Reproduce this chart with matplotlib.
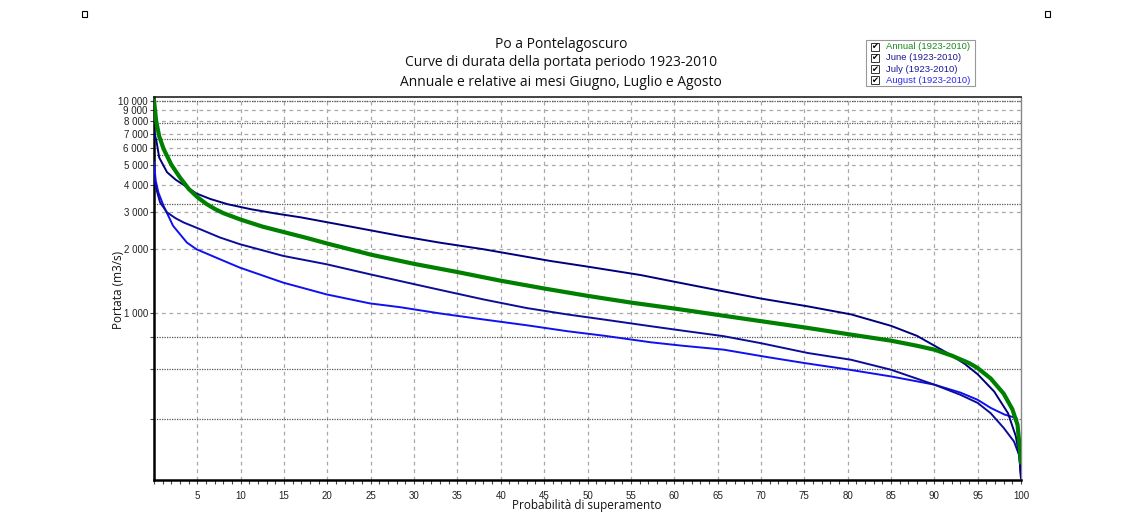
import matplotlib
matplotlib.use("Agg")
import matplotlib.pyplot as plt
from matplotlib.patches import Rectangle
from matplotlib.ticker import FixedLocator, FuncFormatter, MultipleLocator

# --- data (probability of exceedance %, discharge m3/s) ---
annual_p = [0, 0.25, 0.6, 1.1, 2, 3, 4, 5, 6, 7, 8, 10, 12.5, 15, 17.5, 20, 25, 30, 35,
            40, 45, 50, 55, 60, 65, 70, 75, 80, 85, 88, 90, 92, 94, 95, 96.5, 98, 99,
            99.6, 100]
annual_q = [10000, 8000, 6800, 5940, 5000, 4350, 3850, 3520, 3280, 3100, 2960, 2760, 2560,
            2410, 2270, 2130, 1890, 1710, 1565, 1425, 1310, 1210, 1125, 1055, 985, 920,
            860, 800, 745, 705, 676, 634, 585, 554, 495, 420, 355, 300, 200]

june_p = [0, 0.3, 0.6, 1.5, 2.5, 3.4, 4.9, 6.5, 8.5, 11.1, 14, 16.9, 22.6, 28.4, 33, 38,
          45.7, 50, 56.1, 60, 65.7, 70, 75.4, 80.4, 85, 88, 91.5, 93.5, 95, 96.9, 98.5,
          99.4, 99.8, 100]
june_q = [7200, 6400, 5400, 4610, 4250, 4020, 3660, 3450, 3260, 3093, 2950, 2830, 2563,
          2314, 2150, 2003, 1765, 1660, 1516, 1410, 1270, 1175, 1080, 990, 875, 785,
          652, 580, 518, 430, 340, 265, 215, 168]

july_p = [0, 0.3, 0.7, 1.5, 2.5, 3.4, 5.3, 7.6, 9.9, 14.9, 19.9, 24.9, 28.4, 33, 38, 43,
          47.7, 52, 57.3, 61, 65.7, 70, 75.4, 80.4, 85, 90, 93, 95, 96.5, 98, 99.2, 99.8,
          100]
july_q = [4300, 3800, 3325, 2984, 2800, 2678, 2490, 2275, 2116, 1864, 1703, 1528, 1420,
          1290, 1164, 1060, 989, 935, 871, 830, 782, 725, 652, 606, 544, 463, 415, 380,
          340, 290, 250, 215, 170]

august_p = [0, 0.2, 0.5, 1.1, 2.2, 3.8, 4.9, 7.6, 9.9, 14.9, 19.9, 24.9, 28.4, 33, 38,
            43, 47.7, 52, 57.3, 61, 65.7, 70.6, 75, 80.2, 85, 90, 93, 95, 96.5, 98.1,
            99.5, 99.8, 100]
august_q = [5130, 4200, 3706, 3205, 2580, 2152, 2003, 1798, 1642, 1396, 1229, 1115, 1070,
            1000, 937, 880, 825, 785, 732, 705, 676, 625, 585, 544, 506, 463, 425, 393,
            360, 335, 322, 250, 180]

# black dotted reference levels
ref_levels = [10000, 7850, 6590, 5545, 3260, 771, 546, 320]
y_ticks = [1000, 2000, 3000, 4000, 5000, 6000, 7000, 8000, 9000, 10000]
x_ticks = list(range(5, 101, 5))

legend_labels = ["Annual (1923-2010)", "June (1923-2010)", "July (1923-2010)", "August (1923-2010)"]
legend_colors = ["#1a8a1a", "#1a1a8c", "#1a1a9c", "#2a2aee"]

W, H = 1123, 513
fig = plt.figure(figsize=(W / 100, H / 100), dpi=100)
ax = fig.add_axes([154 / W, 1 - 480 / H, (1021 - 154) / W, (480 - 97) / H])

ax.set_yscale("log")
ax.set_xlim(0, 100)
ax.set_ylim(165, 10400)

# grid
for x in x_ticks[:-1]:
    ax.axvline(x, color="#a8a8a8", lw=0.9, ls=(0, (3, 3)), zorder=1)
for y in y_ticks:
    ax.axhline(y, color="#a8a8a8", lw=0.9, ls=(0, (3, 3)), zorder=1)
for y in ref_levels:
    ax.axhline(y, color="#555555", lw=0.9, ls=(0, (1, 1)), zorder=1)

ax.plot(august_p, august_q, color="#1010f0", lw=1.4, zorder=3)
ax.plot(july_p, july_q, color="#0c0c9a", lw=1.4, zorder=3)
ax.plot(june_p, june_q, color="#00007f", lw=1.4, zorder=3)
ax.plot(annual_p, annual_q, color="#008000", lw=3.0, zorder=4)

# ticks
ax.xaxis.set_major_locator(FixedLocator(x_ticks))
ax.xaxis.set_minor_locator(MultipleLocator(1))
ax.yaxis.set_major_locator(FixedLocator(y_ticks))
ax.yaxis.set_minor_locator(FixedLocator(ref_levels[5:]))
ax.yaxis.set_major_formatter(FuncFormatter(lambda v, _: f"{int(v):,}".replace(",", " ")))
ax.yaxis.set_minor_formatter(FuncFormatter(lambda v, _: ""))
ax.tick_params(axis="both", which="major", labelsize=7, length=3, width=0.8,
               colors="#444444", labelcolor="#222222")
ax.tick_params(axis="both", which="minor", length=3, width=0.8, colors="#444444")
ax.tick_params(axis="x", pad=5)
ax.tick_params(axis="y", pad=1.5)
for lab in ax.get_xticklabels() + ax.get_yticklabels():
    lab.set_family("Liberation Sans")

for side in ["left", "bottom"]:
    ax.spines[side].set_linewidth(1.8)
    ax.spines[side].set_color("black")
ax.spines["top"].set_linewidth(1.2)
ax.spines["top"].set_color("#222222")
ax.spines["right"].set_linewidth(1.0)
ax.spines["right"].set_color("#888888")

fig.text(587 / W, 1 - 506 / H, "Probabilità di superamento", ha="center", va="center",
         family="Open Sans", fontsize=8.5, color="#111111")
fig.text(118 / W, 1 - 290 / H, "Portata (m3/s)", ha="center", va="center", rotation=90,
         family="Open Sans", fontsize=8.5, color="#111111")

# title
for i, line in enumerate(["Po a Pontelagoscuro",
                          "Curve di durata della portata periodo 1923-2010",
                          "Annuale e relative ai mesi Giugno, Luglio e Agosto"]):
    fig.text(561 / W, 1 - (44 + i * 19) / H, line, ha="center", va="center",
             family="Open Sans", fontsize=10, color="#111111")

# legend box with checkboxes
fig.patches.append(Rectangle((866 / W, 1 - 86 / H), 109 / W, 46 / H, transform=fig.transFigure,
                             fill=False, edgecolor="#999999", lw=0.8))
for i, (lab, col) in enumerate(zip(legend_labels, legend_colors)):
    yc = 46.5 + i * 11.3
    fig.patches.append(Rectangle((871 / W, 1 - (yc + 4) / H), 8 / W, 8 / H,
                                 transform=fig.transFigure, fill=False,
                                 edgecolor="#333333", lw=0.7))
    fig.text(875 / W, 1 - yc / H, "✔", ha="center", va="center", fontsize=6,
             family="DejaVu Sans", color="black")
    fig.text(886 / W, 1 - yc / H, lab, ha="left", va="center", fontsize=6.8,
             family="Liberation Sans", color=col)

# small corner markers
for xm in [84, 1047]:
    fig.patches.append(Rectangle((xm / W - 2.5 / W, 1 - 16.5 / H), 5 / W, 5 / H,
                                 transform=fig.transFigure, fill=False,
                                 edgecolor="black", lw=0.8))

fig.savefig("out.png", dpi=100)
